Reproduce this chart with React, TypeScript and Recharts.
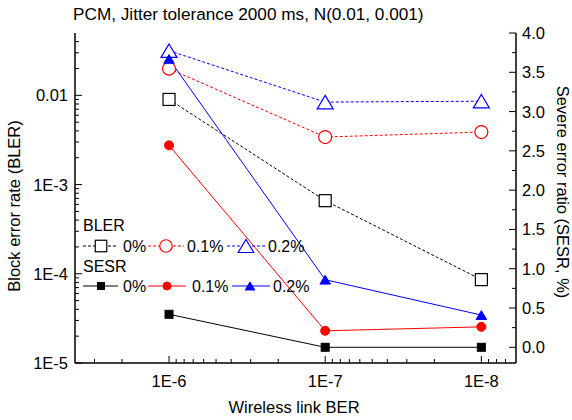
import React from 'react';
import { ComposedChart, Line, XAxis, YAxis } from 'recharts';

// ---------- data ----------
const berCategories = [1e-6, 1e-7, 1e-8];
const berTickLabels = ['1E-6', '1E-7', '1E-8'];
const seriesNames = ['0%', '0.1%', '0.2%'];

const blerJitter0 = [0.0090, 0.00066, 0.000086];
const blerJitter01 = [0.0199, 0.00341, 0.00388];
const blerJitter02 = [0.0317, 0.0084, 0.0086];

const sesrJitter0 = [0.42, 0.0, 0.0];
const sesrJitter01 = [2.57, 0.21, 0.26];
const sesrJitter02 = [3.67, 0.86, 0.41];

const leftMajorTicks = [1e-5, 1e-4, 1e-3, 1e-2];
const leftTickLabels = ['1E-5', '1E-4', '1E-3', '0.01'];
const leftMinorTicks = [
  2e-5, 3e-5, 4e-5, 5e-5, 6e-5, 7e-5, 8e-5, 9e-5,
  2e-4, 3e-4, 4e-4, 5e-4, 6e-4, 7e-4, 8e-4, 9e-4,
  2e-3, 3e-3, 4e-3, 5e-3, 6e-3, 7e-3, 8e-3, 9e-3,
  2e-2, 3e-2, 4e-2,
];
const rightMajorTicks = [0, 0.5, 1, 1.5, 2, 2.5, 3, 3.5, 4];
const rightTickLabels = ['0.0', '0.5', '1.0', '1.5', '2.0', '2.5', '3.0', '3.5', '4.0'];
const rightMinorTicks = [0.25, 0.75, 1.25, 1.75, 2.25, 2.75, 3.25, 3.75];
const xMinorTicks = [
  3e-6, 2e-6,
  9e-7, 8e-7, 7e-7, 6e-7, 5e-7, 4e-7, 3e-7, 2e-7,
  9e-8, 8e-8, 7e-8, 6e-8, 5e-8, 4e-8, 3e-8, 2e-8,
  9e-9, 8e-9, 7e-9,
];

const FONT = "'Liberation Sans', Arial, sans-serif";
const TICK_FS = 16.5;
const BLACK = '#000000';
const RED = '#ff0000';
const BLUE = '#0000ff';

const rows = berCategories.map((ber, i) => ({
  ber,
  b0: blerJitter0[i],
  b1: blerJitter01[i],
  b2: blerJitter02[i],
  s0: sesrJitter0[i],
  s1: sesrJitter01[i],
  s2: sesrJitter02[i],
}));

type Shape = 'square' | 'circle' | 'triangle';

function Marker({ shape, cx, cy, size, color, filled }: { shape: Shape; cx: number; cy: number; size: number; color: string; filled: boolean }) {
  const fill = filled ? color : '#ffffff';
  const sw = filled ? 1 : 1.2;
  if (shape === 'square') {
    return <rect x={cx - size / 2} y={cy - size / 2} width={size} height={size} fill={fill} stroke={color} strokeWidth={sw} />;
  }
  if (shape === 'circle') {
    return <circle cx={cx} cy={cy} r={size / 2} fill={fill} stroke={color} strokeWidth={sw} />;
  }
  const h = size * 0.84;
  return (
    <polygon
      points={`${cx},${cy - h / 2} ${cx + size / 2},${cy + h / 2} ${cx - size / 2},${cy + h / 2}`}
      fill={fill}
      stroke={color}
      strokeWidth={sw}
      strokeLinejoin="miter"
    />
  );
}

const blerSeries = [
  { key: 'b0', color: BLACK, shape: 'square' as Shape, size: 12 },
  { key: 'b1', color: RED, shape: 'circle' as Shape, size: 13 },
  { key: 'b2', color: BLUE, shape: 'triangle' as Shape, size: 16 },
];
const sesrSeries = [
  { key: 's0', color: BLACK, shape: 'square' as Shape, size: 8 },
  { key: 's1', color: RED, shape: 'circle' as Shape, size: 9 },
  { key: 's2', color: BLUE, shape: 'triangle' as Shape, size: 10.5 },
];

const isMajorLog = (v: number) => Math.abs(Math.log10(v) - Math.round(Math.log10(v))) < 1e-6;

function BottomTick(props: any) {
  const { x, y, payload } = props;
  const v = payload.value;
  const major = isMajorLog(v);
  const idx = berCategories.findIndex((c) => Math.abs(Math.log10(c) - Math.log10(v)) < 1e-6);
  return (
    <g>
      <line x1={x} y1={y} x2={x} y2={y - (major ? 7 : 4)} stroke={BLACK} strokeWidth={1} />
      {major && idx >= 0 ? (
        <text x={x} y={y + 24} textAnchor="middle" fontSize={TICK_FS} fontFamily={FONT} fill={BLACK}>
          {berTickLabels[idx]}
        </text>
      ) : null}
    </g>
  );
}

function TopTick(props: any) {
  const { x, y, payload } = props;
  const major = isMajorLog(payload.value);
  return <line x1={x} y1={y} x2={x} y2={y + (major ? 7 : 4)} stroke={BLACK} strokeWidth={1} />;
}

function LeftTick(props: any) {
  const { x, y, payload } = props;
  const v = payload.value;
  const idx = leftMajorTicks.findIndex((c) => Math.abs(Math.log10(c) - Math.log10(v)) < 1e-6);
  const major = idx >= 0;
  return (
    <g>
      <line x1={x} y1={y} x2={x + (major ? 7 : 4)} y2={y} stroke={BLACK} strokeWidth={1} />
      {major ? (
        <text x={x - 7} y={y + 6} textAnchor="end" fontSize={TICK_FS} fontFamily={FONT} fill={BLACK}>
          {leftTickLabels[idx]}
        </text>
      ) : null}
    </g>
  );
}

function RightTick(props: any) {
  const { x, y, payload } = props;
  const v = payload.value;
  const idx = rightMajorTicks.findIndex((c) => Math.abs(c - v) < 1e-6);
  const major = idx >= 0;
  return (
    <g>
      <line x1={x} y1={y} x2={x - (major ? 7 : 4)} y2={y} stroke={BLACK} strokeWidth={1} />
      {major ? (
        <text x={x + 6} y={y + 6} textAnchor="start" fontSize={TICK_FS} fontFamily={FONT} fill={BLACK}>
          {rightTickLabels[idx]}
        </text>
      ) : null}
    </g>
  );
}

const makeDot = (shape: Shape, color: string, filled: boolean, size: number) => (p: any) => (
  <Marker key={`dot-${color}-${shape}-${filled}-${p.index}`} shape={shape} cx={p.cx} cy={p.cy} size={size} color={color} filled={filled} />
);

// legend layout
const legendRows = [
  {
    title: 'BLER',
    titleY: 231,
    y: 246,
    filled: false,
    dash: '3 2',
    series: blerSeries,
    items: [
      { x1: 83, x2: 118, mx: 101, tx: 123 },
      { x1: 148, x2: 184, mx: 166, tx: 187 },
      { x1: 227, x2: 265, mx: 246, tx: 268 },
    ],
  },
  {
    title: 'SESR',
    titleY: 272,
    y: 286,
    filled: true,
    dash: undefined,
    series: sesrSeries,
    items: [
      { x1: 83, x2: 118, mx: 101, tx: 123 },
      { x1: 148, x2: 186, mx: 167, tx: 192 },
      { x1: 232, x2: 270, mx: 250, tx: 273 },
    ],
  },
];

export default function App() {
  return (
    <div style={{ position: 'absolute', left: 0, top: 0, width: 572, height: 420, background: '#fff' }}>
      <ComposedChart width={572} height={420} data={rows} margin={{ top: 33, right: 0, bottom: 0, left: 0 }}>
        <XAxis
          xAxisId="b"
          dataKey="ber"
          type="number"
          scale="log"
          domain={[6e-9, 4e-6]}
          reversed
          allowDataOverflow
          ticks={[...berCategories, ...xMinorTicks]}
          interval={0}
          tick={<BottomTick />}
          tickLine={false}
          tickSize={0}
          tickMargin={0}
          axisLine={{ stroke: BLACK, strokeWidth: 1.5 }}
          height={57}
        />
        <XAxis
          xAxisId="t"
          orientation="top"
          dataKey="ber"
          type="number"
          scale="log"
          domain={[6e-9, 4e-6]}
          reversed
          allowDataOverflow
          ticks={[...berCategories, ...xMinorTicks]}
          interval={0}
          tick={<TopTick />}
          tickLine={false}
          tickSize={0}
          tickMargin={0}
          axisLine={{ stroke: BLACK, strokeWidth: 1.5 }}
          height={0}
        />
        <YAxis
          yAxisId="l"
          type="number"
          scale="log"
          domain={[1e-5, 0.05]}
          allowDataOverflow
          ticks={[...leftMajorTicks, ...leftMinorTicks]}
          interval={0}
          tick={<LeftTick />}
          tickLine={false}
          tickSize={0}
          tickMargin={0}
          axisLine={{ stroke: BLACK, strokeWidth: 1.5 }}
          width={75}
        />
        <YAxis
          yAxisId="r"
          orientation="right"
          type="number"
          domain={[-0.2, 4]}
          allowDataOverflow
          ticks={[...rightMajorTicks, ...rightMinorTicks]}
          interval={0}
          tick={<RightTick />}
          tickLine={false}
          tickSize={0}
          tickMargin={0}
          axisLine={{ stroke: BLACK, strokeWidth: 1.5 }}
          width={56}
        />
        {blerSeries.map((s) => (
          <Line
            key={s.key}
            xAxisId="b"
            yAxisId="l"
            dataKey={s.key}
            type="linear"
            stroke={s.color}
            strokeWidth={1}
            strokeDasharray="3 2"
            dot={makeDot(s.shape, s.color, false, s.size)}
            activeDot={false}
            isAnimationActive={false}
          />
        ))}
        {sesrSeries.map((s) => (
          <Line
            key={s.key}
            xAxisId="b"
            yAxisId="r"
            dataKey={s.key}
            type="linear"
            stroke={s.color}
            strokeWidth={1}
            dot={makeDot(s.shape, s.color, true, s.size)}
            activeDot={false}
            isAnimationActive={false}
          />
        ))}
      </ComposedChart>
      <svg
        width={572}
        height={420}
        style={{ position: 'absolute', left: 0, top: 0, pointerEvents: 'none' }}
        fontFamily={FONT}
      >
        <text x={73} y={20} fontSize={17.2} fill={BLACK}>
          PCM, Jitter tolerance 2000 ms, N(0.01, 0.001)
        </text>
        <text x={294} y={413} fontSize={16.5} textAnchor="middle" fill={BLACK}>
          Wireless link BER
        </text>
        <text transform="translate(20,206) rotate(-90)" fontSize={16.5} textAnchor="middle" fill={BLACK}>
          Block error rate (BLER)
        </text>
        <text transform="translate(557,192) rotate(90)" fontSize={16.5} textAnchor="middle" fill={BLACK}>
          Severe error ratio (SESR, %)
        </text>
        {legendRows.map((r) => (
          <g key={r.title}>
            <text x={83} y={r.titleY} fontSize={16} fill={BLACK}>
              {r.title}
            </text>
            {r.items.map((it, i) => {
              const s = r.series[i];
              return (
                <g key={i}>
                  <line x1={it.x1} y1={r.y} x2={it.x2} y2={r.y} stroke={s.color} strokeWidth={1} strokeDasharray={r.dash} />
                  <Marker shape={s.shape} cx={it.mx} cy={r.y} size={r.filled ? s.size - 1 : s.size - 0.5} color={s.color} filled={r.filled} />
                  <text x={it.tx} y={r.y + 6} fontSize={16} fill={BLACK}>
                    {seriesNames[i]}
                  </text>
                </g>
              );
            })}
          </g>
        ))}
      </svg>
    </div>
  );
}
